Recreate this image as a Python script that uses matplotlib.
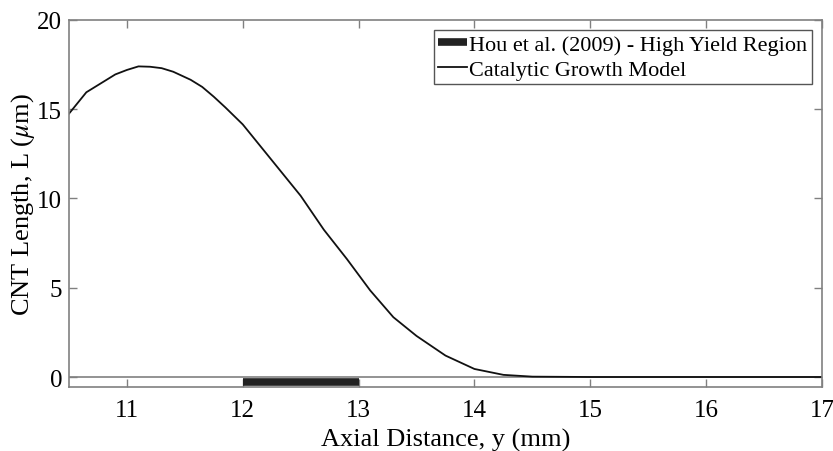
import matplotlib
matplotlib.use('Agg')
import matplotlib.pyplot as plt

# catalytic growth model curve
axial_y = [10.5, 10.65, 10.9, 11.0, 11.1, 11.2, 11.3, 11.4, 11.55, 11.65, 11.75, 11.85,
           12.0, 12.2, 12.4, 12.5, 12.7, 12.9, 13.1, 13.3, 13.5, 13.75, 14.0, 14.25,
           14.5, 15.0, 16.0, 17.0]
cnt_len = [14.75, 15.95, 16.95, 17.2, 17.4, 17.38, 17.3, 17.1, 16.65, 16.25, 15.7, 15.1,
           14.15, 12.55, 10.95, 10.15, 8.25, 6.6, 4.85, 3.35, 2.3, 1.2, 0.45, 0.12,
           0.02, 0.0, 0.0, 0.0]

# high yield region (Hou et al. 2009)
hou_x = [12, 13]
hou_y = [-0.3, -0.3]

xticks = [11, 12, 13, 14, 15, 16, 17]
yticks = [0, 5, 10, 15, 20]

plt.rcParams['font.family'] = ['Liberation Serif', 'DejaVu Serif']
plt.rcParams['mathtext.fontset'] = 'stix'

fig = plt.figure(figsize=(8.33, 4.52), dpi=100)
ax = fig.add_axes([0.0828, 0.1416, 0.904, 0.812])

spine_col = '#808080'
ax.axhline(0, color=spine_col, lw=1.2, zorder=1)
ax.plot(hou_x, hou_y, color='#222222', lw=5.5, solid_capstyle='butt',
        label='Hou et al. (2009) - High Yield Region')
ax.plot(axial_y, cnt_len, color='#111111', lw=1.3, label='Catalytic Growth Model')

ax.set_xlim(10.5, 17)
ax.set_ylim(-0.56, 20)
ax.set_xticks(xticks)
ax.set_yticks(yticks)
ax.tick_params(direction='in', top=True, right=True, length=6, width=1,
               color=spine_col, labelsize=18)
ax.tick_params(axis='x', pad=9)
ax.tick_params(axis='y', pad=5)
for s in ax.spines.values():
    s.set_color(spine_col)
    s.set_linewidth(1.2)

ax.set_xlabel('Axial Distance, y (mm)', fontsize=19, labelpad=4.5)
ax.set_ylabel(r'CNT Length, L ($\mu$m)', fontsize=19, labelpad=0)

leg = ax.legend(loc='upper right', fontsize=16, handlelength=1.3, handletextpad=0.1,
                borderpad=0.2, labelspacing=0.2, borderaxespad=0.45,
                fancybox=False, framealpha=1, edgecolor='#555555')
leg.get_frame().set_linewidth(1.0)

fig.savefig('out.png', dpi=100)
